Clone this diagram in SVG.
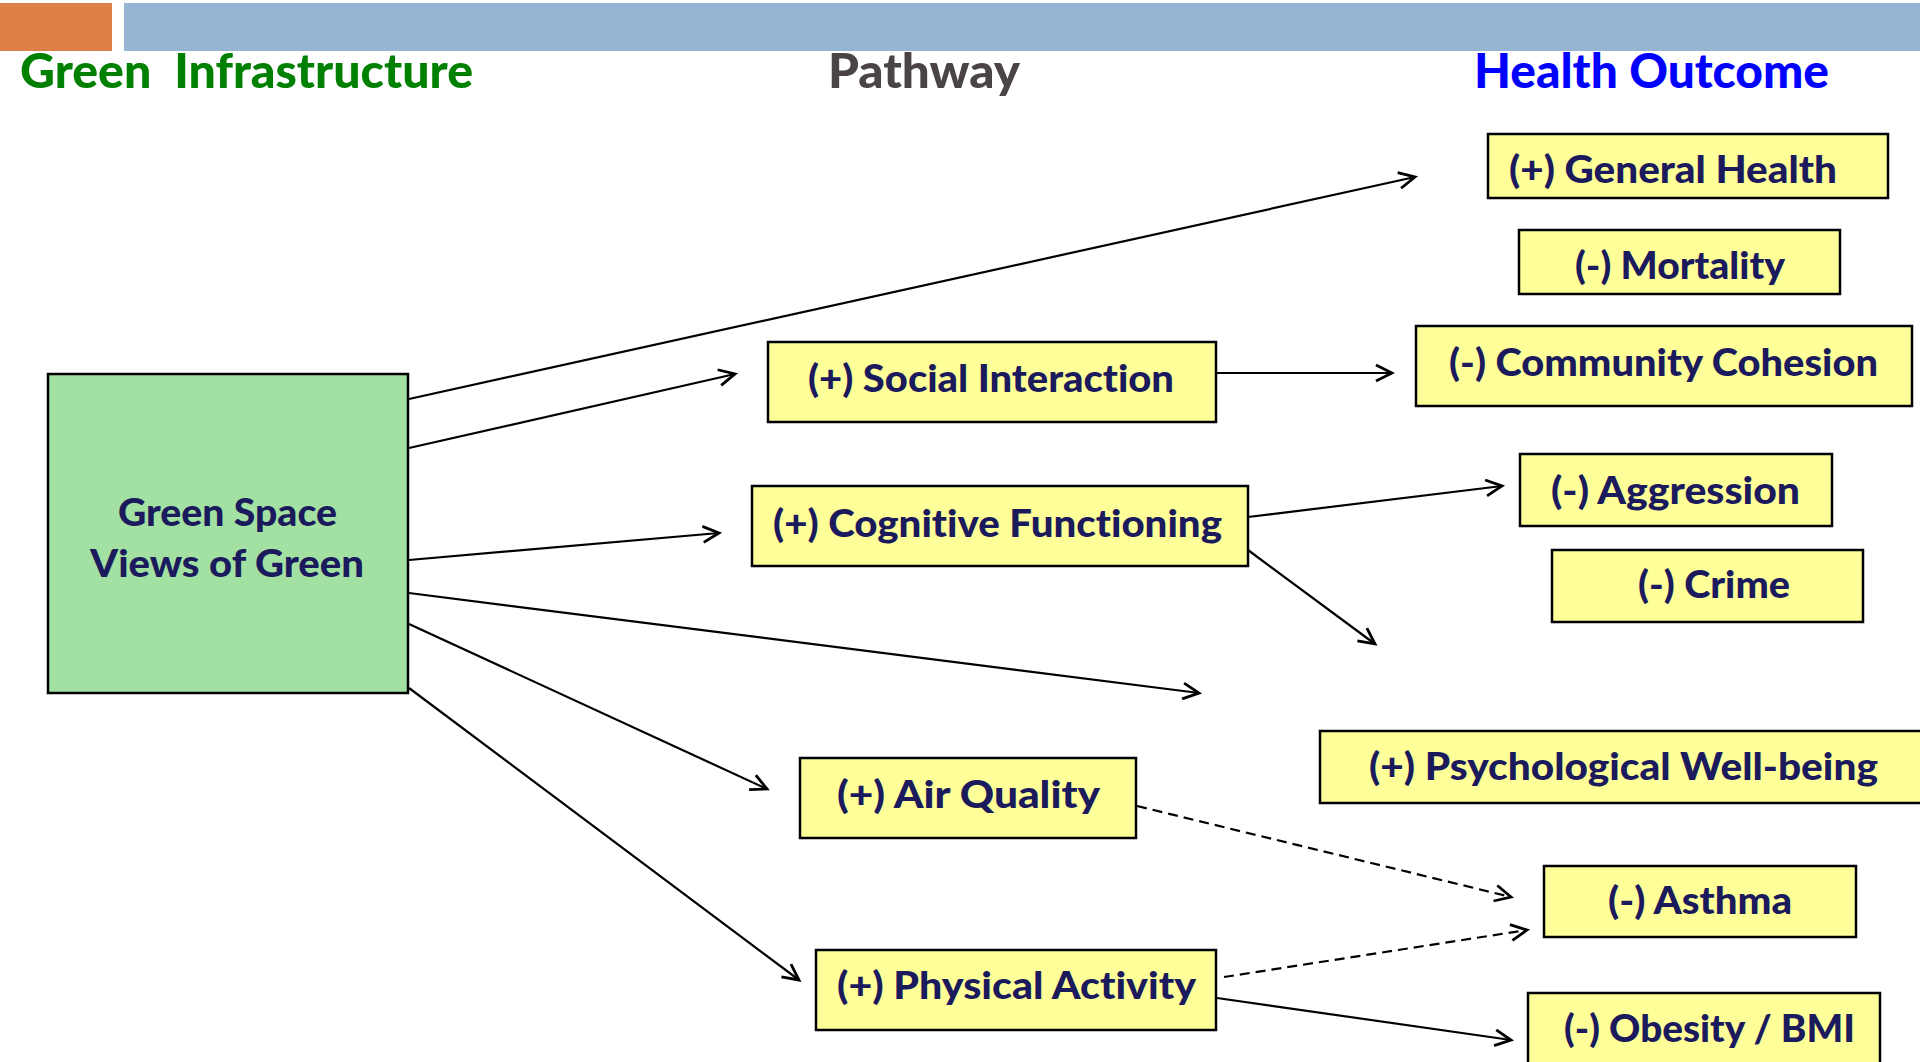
<svg xmlns="http://www.w3.org/2000/svg" width="1920" height="1062" viewBox="0 0 1920 1062">
<defs>
<style>
.box{fill:#ffff99;stroke:#000;stroke-width:2.5}
.gbox{fill:#a3e1a3;stroke:#000;stroke-width:2.5}
.t{font-family:Lato,"Liberation Sans",sans-serif;font-weight:900;font-size:37px;fill:#1a1a5c;font-variant-ligatures:none}
.h{font-family:Lato,"Liberation Sans",sans-serif;font-weight:900;font-size:48px;font-variant-ligatures:none}
.c{fill:none;stroke:#000;stroke-width:2.2}
.d{fill:none;stroke:#000;stroke-width:2.2;stroke-dasharray:10 6}
</style>
<marker id="arr" markerWidth="22" markerHeight="22" refX="19" refY="11" orient="auto" markerUnits="userSpaceOnUse">
<path d="M3,3 L19,11 L3,19" fill="none" stroke="#000" stroke-width="2.8"/>
</marker>
</defs>
<rect width="1920" height="1062" fill="#fff"/>
<g id="header">
<rect x="0" y="3" width="112" height="48" fill="#dd8047"/>
<rect x="124" y="3" width="1796" height="48" fill="#95b5d3"/>
<text class="h" x="20" y="88" fill="#008000" textLength="453" lengthAdjust="spacingAndGlyphs" xml:space="preserve">Green  Infrastructure</text>
<text class="h" x="828" y="88" fill="#4a4444" textLength="192" lengthAdjust="spacingAndGlyphs">Pathway</text>
<text class="h" x="1474" y="88" fill="#0000ff" textLength="355" lengthAdjust="spacingAndGlyphs">Health Outcome</text>
</g>
<g id="connectors">
<line class="c" x1="409" y1="399" x2="1415" y2="177" marker-end="url(#arr)"/>
<line class="c" x1="409" y1="448" x2="735" y2="374" marker-end="url(#arr)"/>
<line class="c" x1="409" y1="560" x2="719" y2="533" marker-end="url(#arr)"/>
<line class="c" x1="409" y1="593" x2="1199" y2="693" marker-end="url(#arr)"/>
<line class="c" x1="409" y1="624" x2="767" y2="789" marker-end="url(#arr)"/>
<line class="c" x1="409" y1="688" x2="799" y2="980" marker-end="url(#arr)"/>
<line class="c" x1="1216" y1="373" x2="1392" y2="373" marker-end="url(#arr)"/>
<line class="c" x1="1248" y1="517" x2="1502" y2="486" marker-end="url(#arr)"/>
<line class="c" x1="1248" y1="550" x2="1375" y2="644" marker-end="url(#arr)"/>
<line class="d" x1="1137" y1="806" x2="1511" y2="897" marker-end="url(#arr)"/>
<line class="d" x1="1224" y1="977" x2="1527" y2="930" marker-end="url(#arr)"/>
<line class="c" x1="1217" y1="998" x2="1511" y2="1040" marker-end="url(#arr)"/>
</g>
<g id="green-space">
<rect class="gbox" x="48" y="374" width="360" height="319"/>
<text class="t" x="118" y="526" textLength="219" lengthAdjust="spacingAndGlyphs">Green Space</text>
<text class="t" x="90" y="577" textLength="274" lengthAdjust="spacingAndGlyphs">Views of Green</text>
</g>
<g id="general-health">
<rect class="box" x="1488" y="134" width="400" height="64"/>
<text class="t" x="1509" y="183" textLength="328" lengthAdjust="spacingAndGlyphs">(+) General Health</text>
</g>
<g id="mortality">
<rect class="box" x="1519" y="230" width="321" height="64"/>
<text class="t" x="1575" y="279" textLength="210" lengthAdjust="spacingAndGlyphs">(-) Mortality</text>
</g>
<g id="community-cohesion">
<rect class="box" x="1416" y="326" width="496" height="80"/>
<text class="t" x="1449" y="376" textLength="429" lengthAdjust="spacingAndGlyphs">(-) Community Cohesion</text>
</g>
<g id="social-interaction">
<rect class="box" x="768" y="342" width="448" height="80"/>
<text class="t" x="808" y="392" textLength="366" lengthAdjust="spacingAndGlyphs">(+) Social Interaction</text>
</g>
<g id="cognitive-functioning">
<rect class="box" x="752" y="486" width="496" height="80"/>
<text class="t" x="773" y="537" textLength="449" lengthAdjust="spacingAndGlyphs">(+) Cognitive Functioning</text>
</g>
<g id="aggression">
<rect class="box" x="1520" y="454" width="312" height="72"/>
<text class="t" x="1551" y="504" textLength="249" lengthAdjust="spacingAndGlyphs">(-) Aggression</text>
</g>
<g id="crime">
<rect class="box" x="1552" y="550" width="311" height="72"/>
<text class="t" x="1638" y="598" textLength="152" lengthAdjust="spacingAndGlyphs">(-) Crime</text>
</g>
<g id="psychological-well-being">
<rect class="box" x="1320" y="731" width="610" height="72"/>
<text class="t" x="1369" y="780" textLength="509" lengthAdjust="spacingAndGlyphs">(+) Psychological Well-being</text>
</g>
<g id="air-quality">
<rect class="box" x="800" y="758" width="336" height="80"/>
<text class="t" x="837" y="808" textLength="263" lengthAdjust="spacingAndGlyphs">(+) Air Quality</text>
</g>
<g id="asthma">
<rect class="box" x="1544" y="866" width="312" height="71"/>
<text class="t" x="1608" y="914" textLength="184" lengthAdjust="spacingAndGlyphs">(-) Asthma</text>
</g>
<g id="physical-activity">
<rect class="box" x="816" y="950" width="400" height="80"/>
<text class="t" x="837" y="999" textLength="359" lengthAdjust="spacingAndGlyphs">(+) Physical Activity</text>
</g>
<g id="obesity-bmi">
<rect class="box" x="1528" y="993" width="352" height="80"/>
<text class="t" x="1564" y="1042" textLength="291" lengthAdjust="spacingAndGlyphs">(-) Obesity / BMI</text>
</g>
</svg>
